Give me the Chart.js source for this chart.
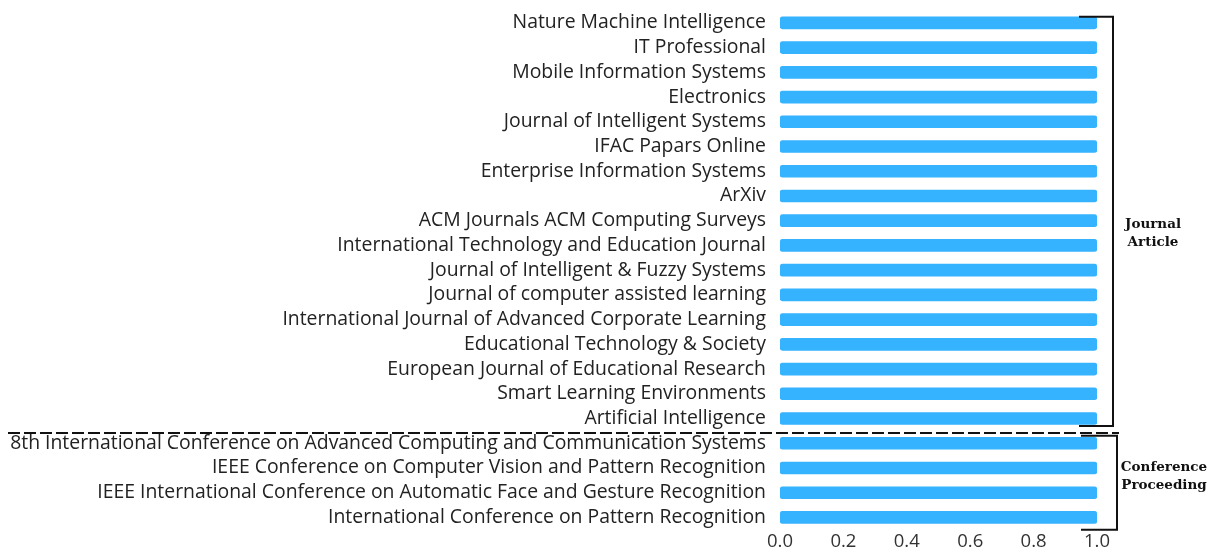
<!DOCTYPE html>
<html>
<head>
<meta charset="utf-8">
<script src="https://cdn.jsdelivr.net/npm/chart.js@4"></script>
<style>
  html, body { margin: 0; padding: 0; background: #fff; }
</style>
</head>
<body>
<canvas id="venues" width="1212" height="554"></canvas>
<script>
// categories, top to bottom
const venues = [
  "Nature Machine Intelligence",
  "IT Professional",
  "Mobile Information Systems",
  "Electronics",
  "Journal of Intelligent Systems",
  "IFAC Papars Online",
  "Enterprise Information Systems",
  "ArXiv",
  "ACM Journals ACM Computing Surveys",
  "International Technology and Education Journal",
  "Journal of Intelligent & Fuzzy Systems",
  "Journal of computer assisted learning",
  "International Journal of Advanced Corporate Learning",
  "Educational Technology & Society",
  "European Journal of Educational Research",
  "Smart Learning Environments",
  "Artificial Intelligence",
  "8th International Conference on Advanced Computing and Communication Systems",
  "IEEE Conference on Computer Vision and Pattern Recognition",
  "IEEE International Conference on Automatic Face and Gesture Recognition",
  "International Conference on Pattern Recognition"
];
const counts = [1, 1, 1, 1, 1, 1, 1, 1, 1, 1, 1, 1, 1, 1, 1, 1, 1, 1, 1, 1, 1];
const xTicks = [0.0, 0.2, 0.4, 0.6, 0.8, 1.0];

// groups: first index, last index, label lines
const groupNames = [["Journal", "Article"], ["Conference", "Proceeding"]];
const groupFirst = [0, 17];
const groupLast = [16, 20];

// brackets + dashed separator
const bracketPlugin = {
  id: "brackets",
  afterDraw(chart) {
    const ctx = chart.ctx;
    const y = chart.scales.y;
    const step = y.getPixelForValue(1) - y.getPixelForValue(0);
    ctx.save();
    ctx.strokeStyle = "#111";
    ctx.lineWidth = 2;
    const xs = [[1079, 1113], [1081, 1117]];
    const labelAt = [8.52, 18.34];
    const labelX = [1153, 1164];
    groupFirst.forEach((f, i) => {
      const top = i === 0 ? y.getPixelForValue(f) - 6 : y.getPixelForValue(f) - step * 0.3;
      const bot = y.getPixelForValue(groupLast[i]) + step * (i === 0 ? 0.3 : 0.5);
      ctx.beginPath();
      ctx.moveTo(xs[i][0], top);
      ctx.lineTo(xs[i][1], top);
      ctx.lineTo(xs[i][1], bot);
      ctx.lineTo(xs[i][0], bot);
      ctx.stroke();
      ctx.fillStyle = "#111";
      ctx.font = "bold 13.5px 'DejaVu Serif'";
      ctx.textAlign = "center";
      ctx.textBaseline = "middle";
      const mid = y.getPixelForValue(labelAt[i]);
      ctx.fillText(groupNames[i][0], labelX[i], mid - 9);
      ctx.fillText(groupNames[i][1], labelX[i], mid + 9);
    });
    // dashed separator between groups
    const sep = (y.getPixelForValue(16) + y.getPixelForValue(17)) / 2 + 2;
    ctx.setLineDash([12, 4]);
    ctx.beginPath();
    ctx.moveTo(8, sep);
    ctx.lineTo(1119, sep);
    ctx.stroke();
    ctx.restore();
  }
};

new Chart(document.getElementById("venues"), {
  type: "bar",
  data: {
    labels: venues,
    datasets: [{
      data: counts,
      backgroundColor: "#35b3ff",
      borderRadius: 3,
      borderSkipped: false,
      barThickness: 12
    }]
  },
  options: {
    indexAxis: "y",
    responsive: false,
    animation: false,
    devicePixelRatio: 1,
    layout: { padding: { top: 10.5, right: 115, bottom: 0, left: 0 } },
    plugins: { legend: { display: false }, tooltip: { enabled: false } },
    scales: {
      x: {
        min: 0, max: 1,
        afterBuildTicks: (s) => { s.ticks = xTicks.map(v => ({ value: v })); },
        grid: { display: false, drawTicks: false },
        border: { display: false },
        ticks: {
          padding: 1,
          color: "#333",
          font: { family: "'Open Sans'", size: 18.5 },
          callback: (v) => Number(v).toFixed(1)
        }
      },
      y: {
        grid: { display: false, drawTicks: false },
        border: { display: false },
        afterFit: (s) => { s.width = 780; s.paddingTop = 0; s.paddingBottom = 0; },
        ticks: {
          padding: 14,
          autoSkip: false,
          color: "#222",
          font: { family: "'Open Sans'", size: 19.4 }
        }
      }
    }
  },
  plugins: [bracketPlugin]
});
</script>
</body>
</html>
